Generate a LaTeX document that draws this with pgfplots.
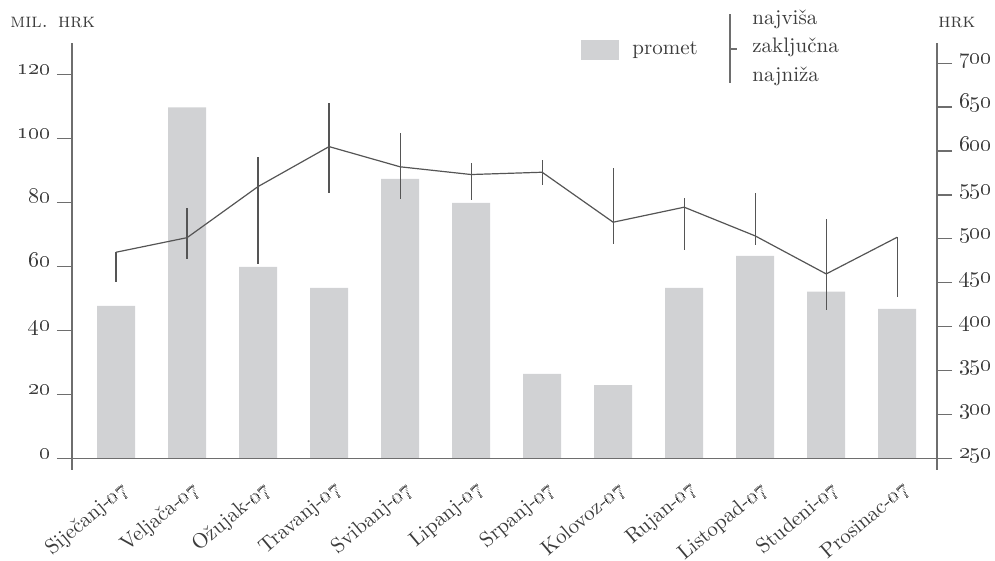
\documentclass[border=0pt]{standalone}
\usepackage{pgfplots}
\usepackage{pgfplotstable}
\pgfplotsset{compat=1.18}
\usetikzlibrary{calc}

\definecolor{bargray}{RGB}{209,210,212}
\definecolor{axisgray}{RGB}{110,110,110}
\definecolor{linegray}{RGB}{85,85,85}
\definecolor{textgray}{RGB}{60,60,60}

% promet, mil. HRK
\pgfplotstableread{
x vol
0 47.7
1 109.8
2 59.9
3 53.3
4 87.4
5 79.9
6 26.4
7 22.9
8 53.3
9 63.3
10 52.1
11 46.7
}\volume

% cijena dionice, HRK
\pgfplotstableread{
x close high low
0 484.7 484.7 451.2
1 501.3 535.5 477.0
2 559.5 593.3 471.0
3 605.0 655.0 552.0
4 582.0 621.0 545.0
5 573.2 586.4 544.5
6 575.8 589.9 561.4
7 518.9 580.4 494.0
8 536.0 546.2 487.3
9 503.3 552.6 493.0
10 460.0 523.0 419.0
11 501.8 501.8 434.0
}\prices

\pgfplotsset{
  common/.style={
    scale only axis,
    width=432.5pt, height=213.5pt,
    at={(0,0)}, anchor=south west,
    xmin=-0.62, xmax=11.56,
    tick align=outside,
    major tick length=7.5pt,
    tick style={axisgray, line width=0.65pt},
    axis line style={axisgray, line width=0.65pt},
    ticklabel style={font=\fontsize{11}{13}\selectfont, text=textgray},
    /pgf/number format/assume math mode=true,
  },
}

\begin{document}
\begin{tikzpicture}
  \begin{axis}[common, name=ax,
    axis y line*=left,
    axis x line*=bottom,
    x axis line style={draw=none},
    xtick={0,...,11},
    x tick style={draw=none},
    xticklabels={Siječanj-\oldstylenums{07}, Veljača-\oldstylenums{07},
      Ožujak-\oldstylenums{07}, Travanj-\oldstylenums{07},
      Svibanj-\oldstylenums{07}, Lipanj-\oldstylenums{07},
      Srpanj-\oldstylenums{07}, Kolovoz-\oldstylenums{07},
      Rujan-\oldstylenums{07}, Listopad-\oldstylenums{07},
      Studeni-\oldstylenums{07}, Prosinac-\oldstylenums{07}},
    xticklabel style={font=\fontsize{10.5}{12}\selectfont,
      xshift=2pt, yshift=7.5pt, rotate=40, anchor=north east},
    ymin=-3.66, ymax=129.9,
    ytick={0,20,...,120},
    yticklabel={\oldstylenums{\pgfmathprintnumber{\tick}}},
    yticklabel style={anchor=base east},
    ]
    \addplot[ybar, bar width=19pt, fill=bargray, draw=none] table[x=x, y=vol] {\volume};
    \draw[axisgray, line width=0.65pt] (axis cs:-0.775,0) -- (axis cs:11.56,0);
  \end{axis}

  \begin{axis}[common,
    axis y line*=right,
    axis x line=none,
    ymin=236.7, ymax=723,
    ytick={250,300,...,700},
    yticklabel={\oldstylenums{\pgfmathprintnumber{\tick}}},
    yticklabel style={anchor=base west},
    ]
    % zaključna cijena s rasponom najniža-najviša
    \addplot[linegray, line width=0.6pt, mark=none, sharp plot,
      error bars/.cd, y dir=both, y explicit, error mark=none,
      error bar style={draw=linegray, line width=0.6pt}]
      table[x=x, y=close,
        y error plus expr=\thisrow{high}-\thisrow{close},
        y error minus expr=\thisrow{close}-\thisrow{low}] {\prices};
  \end{axis}

  % legenda i oznake jedinica
  \begin{scope}[every node/.style={inner sep=0pt, text=textgray, font=\fontsize{10.5}{12}\selectfont}]
    \fill[bargray] (254.5pt,205pt) rectangle (273.5pt,215pt);
    \node[anchor=base west] at (280pt,207.5pt) {promet};
    \draw[axisgray, line width=0.65pt] (329pt,193.5pt) -- (329pt,228pt);
    \draw[axisgray, line width=1.4pt] (329pt,210.5pt) -- (332.5pt,210.5pt);
    \node[anchor=base west] at (340pt,222.5pt) {najviša};
    \node[anchor=base west] at (340pt,208.5pt) {zaključna};
    \node[anchor=base west] at (340pt,194pt) {najniža};
    \node[anchor=base west, font=\fontsize{10}{12}\selectfont] at (-31pt,221pt) {\textsc{mil. hrk}};
    \node[anchor=base west, font=\fontsize{10}{12}\selectfont] at (433pt,221pt) {\textsc{hrk}};
  \end{scope}

  \pgfresetboundingbox
  \path[use as bounding box] (-36pt,-45.5pt) rectangle (461.5pt,235pt);
\end{tikzpicture}
\end{document}
